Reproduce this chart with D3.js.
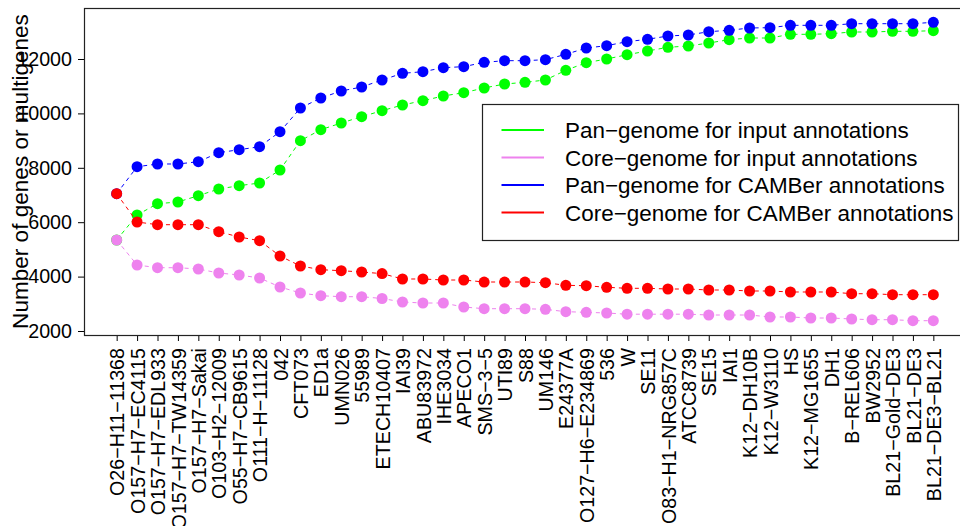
<!DOCTYPE html>
<html>
<head>
<meta charset="utf-8">
<script src="https://cdn.jsdelivr.net/npm/d3@7/dist/d3.min.js"></script>
<style>
  html, body { margin: 0; padding: 0; background: #fff; overflow: hidden; }
  svg { display: block; font-family: "Liberation Sans", Arial, Helvetica, sans-serif; }
</style>
</head>
<body>
<div id="chart"></div>
<script>
const strains = [
  'O26-H11-11368', 'O157-H7-EC4115', 'O157-H7-EDL933', 'O157-H7-TW14359', 'O157-H7-Sakai',
  'O103-H2-12009', 'O55-H7-CB9615', 'O111-H-11128', '042', 'CFT073', 'ED1a', 'UMN026',
  '55989', 'ETECH10407', 'IAI39', 'ABU83972', 'IHE3034', 'APECO1', 'SMS-3-5', 'UTI89',
  'S88', 'UM146', 'E24377A', 'O127-H6-E234869', '536', 'W', 'SE11', 'O83-H1-NRG857C',
  'ATCC8739', 'SE15', 'IAI1', 'K12-DH10B', 'K12-W3110', 'HS', 'K12-MG1655', 'DH1',
  'B-REL606', 'BW2952', 'BL21-Gold-DE3', 'BL21-DE3', 'BL21-DE3-BL21'
];

const panInput = [5346, 6265, 6681, 6743, 6975, 7221, 7343, 7441, 7919, 8997, 9401, 9647, 9880, 10100,
  10309, 10467, 10640, 10762, 10934, 11081, 11142, 11228, 11585, 11864, 12000, 12158, 12294, 12430,
  12478, 12588, 12710, 12772, 12772, 12908, 12908, 12930, 12993, 12993, 13018, 13018, 13040];
const coreInput = [5346, 4426, 4327, 4327, 4279, 4132, 4059, 3949, 3618, 3397, 3298, 3261, 3261, 3195,
  3066, 3029, 3029, 2882, 2820, 2820, 2820, 2797, 2710, 2687, 2662, 2618, 2618, 2618,
  2618, 2588, 2588, 2588, 2515, 2515, 2478, 2478, 2441, 2415, 2415, 2379, 2379];
const panCamber = [7048, 8040, 8140, 8140, 8224, 8555, 8666, 8776, 9327, 10199, 10566, 10824, 10971, 11228,
  11473, 11533, 11681, 11718, 11877, 11938, 11938, 11975, 12172, 12404, 12490, 12637, 12724, 12846,
  12882, 13004, 13055, 13140, 13152, 13238, 13238, 13238, 13298, 13298, 13298, 13298, 13349];
const coreCamber = [7048, 6007, 5908, 5908, 5908, 5651, 5456, 5320, 4757, 4390, 4254, 4217, 4169, 4110,
  3912, 3912, 3875, 3875, 3801, 3801, 3801, 3776, 3680, 3665, 3607, 3570, 3570, 3544,
  3544, 3507, 3507, 3471, 3471, 3434, 3434, 3434, 3371, 3371, 3335, 3335, 3335];

const yTicks = [2000, 4000, 6000, 8000, 10000, 12000];
const seriesNames = [
  'Pan-genome for input annotations',
  'Core-genome for input annotations',
  'Pan-genome for CAMBer annotations',
  'Core-genome for CAMBer annotations'
];
const seriesColors = ['#00ff00', '#ee82ee', '#0000ff', '#ff0000'];
const seriesValues = [panInput, coreInput, panCamber, coreCamber];

const W = 960, H = 526;
const plot = { left: 84, top: 8, right: 966, bottom: 335 };
const minus = s => s.replace(/-/g, '\u2212');

const svg = d3.select('#chart').append('svg')
  .attr('width', W)
  .attr('height', H);

// pick a font size so that a sample string gets the width measured on the reference
function fitSize(sample, width) {
  const t = svg.append('text').style('font-size', '20px').text(sample);
  const w = t.node().getComputedTextLength();
  t.remove();
  return 20 * width / w;
}
const axisFont = fitSize(minus('O157-H7-EC4115'), 166);
const labelFont = fitSize('Number of genes or multigenes', 315);
const legendFont = fitSize(minus(seriesNames[0]), 344);

// x: index of strain, R style 4% padding
const x = d3.scaleLinear()
  .domain([-1.6, strains.length - 1 + 1.6])
  .range([plot.left, plot.right]);

const y = d3.scaleLinear()
  .domain([1853, 13875])
  .range([plot.bottom, plot.top]);

// y axis
const yAxis = svg.append('g')
  .attr('transform', `translate(${plot.left},0)`)
  .call(d3.axisLeft(y).tickValues(yTicks).tickSize(6).tickPadding(6).tickFormat(d3.format('d')));
yAxis.select('.domain').remove();
yAxis.selectAll('line').attr('stroke', '#000');
yAxis.selectAll('text')
  .attr('fill', '#000')
  .style('font-size', axisFont + 'px');

// x axis
const xAxis = svg.append('g')
  .attr('transform', `translate(0,${plot.bottom})`)
  .call(d3.axisBottom(x).tickValues(d3.range(strains.length)).tickSize(6).tickFormat(i => minus(strains[i])));
xAxis.select('.domain').remove();
xAxis.selectAll('line').attr('stroke', '#000');
xAxis.selectAll('text')
  .attr('fill', '#000')
  .style('font-size', axisFont + 'px')
  .style('text-anchor', 'end')
  .attr('transform', 'rotate(-90)')
  .attr('x', -13)
  .attr('y', 0)
  .attr('dy', '0.36em');

// series: dashed lines with filled points
const line = d3.line()
  .x((d, i) => x(i))
  .y(d => y(d));

seriesValues.forEach((vals, k) => {
  const g = svg.append('g');
  g.append('path')
    .datum(vals)
    .attr('d', line)
    .attr('fill', 'none')
    .attr('stroke', seriesColors[k])
    .attr('stroke-width', 1)
    .attr('stroke-dasharray', '4,4');
  g.selectAll('circle')
    .data(vals)
    .enter().append('circle')
    .attr('cx', (d, i) => x(i))
    .attr('cy', d => y(d))
    .attr('r', 5.5)
    .attr('fill', seriesColors[k]);
});

// plot frame
svg.append('rect')
  .attr('x', plot.left + 0.5)
  .attr('y', plot.top + 0.5)
  .attr('width', plot.right - plot.left)
  .attr('height', plot.bottom - plot.top)
  .attr('fill', 'none')
  .attr('stroke', '#222')
  .attr('stroke-width', 1.2);

// y label
svg.append('text')
  .attr('transform', `translate(28,${(plot.top + plot.bottom) / 2}) rotate(-90)`)
  .style('text-anchor', 'middle')
  .style('font-size', labelFont + 'px')
  .attr('fill', '#000')
  .text('Number of genes or multigenes');

// legend
const legend = svg.append('g');
legend.append('rect')
  .attr('x', 482.5)
  .attr('y', 104.5)
  .attr('width', 476)
  .attr('height', 136)
  .attr('fill', '#fff')
  .attr('stroke', '#222')
  .attr('stroke-width', 1.2);

const rowY = d3.scaleLinear().domain([0, 3]).range([130, 212.5]);
seriesNames.forEach((name, k) => {
  legend.append('line')
    .attr('x1', 501.5).attr('x2', 544)
    .attr('y1', rowY(k)).attr('y2', rowY(k))
    .attr('stroke', seriesColors[k])
    .attr('stroke-width', 2);
  legend.append('text')
    .attr('x', 565)
    .attr('y', rowY(k))
    .attr('dy', '0.36em')
    .style('font-size', legendFont + 'px')
    .attr('fill', '#000')
    .text(minus(name));
});
</script>
</body>
</html>
